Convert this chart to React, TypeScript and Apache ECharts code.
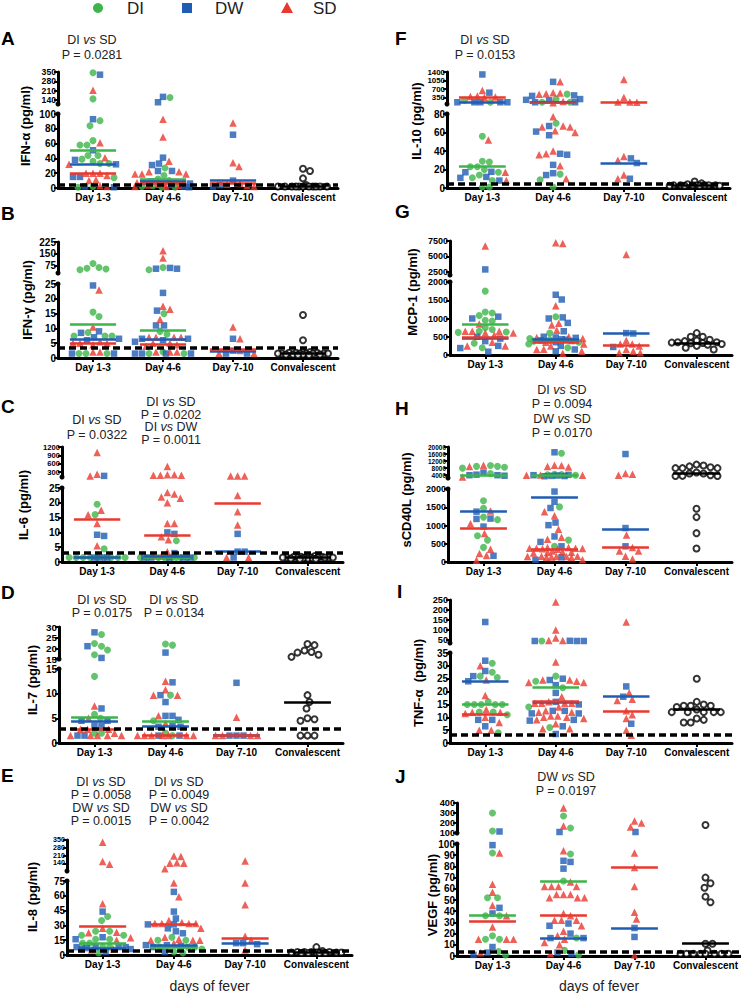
import React, { useEffect, useRef } from 'react';
import * as echarts from 'echarts';

const CATEGORIES = ['Day 1-3', 'Day 4-6', 'Day 7-10', 'Convalescent'];
const GROUP_NAMES = ['DI', 'DW', 'SD'];

// ---------- Panel A : IFN-alpha ----------
const A_DI = [[345, 150, 91, 84, 64, 58, 58, 44, 44, 39, 36, 33, 33, 14, 2, 1], [160, 27, 17, 12, 10, 8, 3, 2, 1, 1], []];
const A_DW = [[330, 93, 51, 38, 32, 15, 15, 2, 1], [165, 125, 41, 33, 31, 23, 23, 9, 8, 6, 4, 2, 1], [72, 10, 4, 2]];
const A_SD = [[215, 61, 41, 32, 20, 20, 20, 17, 11, 10, 3, 2], [93, 69, 36, 22, 22, 19, 19, 19, 8, 7, 6, 5, 4, 3, 2, 2], [88, 34, 29, 6, 5, 3, 2]];
const A_CONV = [26, 23, 13, 4, 2, 2, 2, 2, 2, 2, 2, 2, 2, 2, 2];
const A_MED = [[51, 12, null], [32, 9, 11], [20, 7, 7]];
const A_MED_CONV = 2;
const A_LOD = 4;
const A_UP_TICKS = [140, 210, 280, 350];
const A_LO_TICKS = [0, 20, 40, 60, 80, 100];

// ---------- Panel B : IFN-gamma ----------
const B_DI = [[90, 65, 60, 55, 50, 15.5, 14, 8.6, 7.4, 7.4, 7.4, 1.5, 1.5, 1.5], [65, 50, 15, 9, 8, 2, 1.5, 1.5], []];
const B_DW = [[24.5, 9, 8.5, 7, 6.5, 6, 1.5, 1.5], [62, 57, 57, 22, 16, 11, 11, 6.5, 6.5, 6, 5.5, 1.5, 1.5, 1.5, 1.5], [6.5, 2.5, 1.5, 1.5]];
const B_SD = [[23, 10.5, 5.5, 5, 5, 5, 4.5, 2, 2], [170, 125, 17.5, 16.5, 13, 7, 7, 7, 7, 5, 5, 4.5, 4, 2, 2, 2], [10.5, 6.5, 2.5, 1.5, 1.5]];
const B_CONV = [14.5, 6, 2, 2, 1.8, 1.8, 1.8, 1.5, 1.5, 1.5, 1.5, 1.5, 1.5, 1.5, 1.2, 1.2, 1.2, 1.2, 1, 1];
const B_MED = [[11.5, 9.3, null], [6.5, 6.5, 2.3], [5, 4.5, 2.8]];
const B_MED_CONV = 1.5;
const B_LOD = 3.3;
const B_UP_TICKS = [75, 150, 225];
const B_LO_TICKS = [0, 5, 10, 15, 20, 25];

// ---------- Panel C : IL-6 ----------
const C_DI = [[19.5, 16, 4.5, 1.5, 1.5, 1.5, 1.5, 1.5, 1.5, 1.5, 1.5, 1.5], [7.2, 1.5, 1.5, 1.5, 1.5, 1.5, 1.5, 1.5, 1.5, 1.5, 1.5], []];
const C_DW = [[160, 9.2, 8.8, 1.5, 1.5, 1.5], [10, 9.5, 3, 1.5, 1.5, 1.5, 1.5, 1.5], [9.5, 3.5, 3.5, 1.5]];
const C_SD = [[1000, 220, 160, 17.5, 16, 13, 5.5], [500, 200, 180, 180, 180, 200, 23.5, 23, 22, 21.5, 20, 13, 13, 8.5, 7.5, 3.5, 2, 2], [160, 160, 160, 22.5, 17, 12.5, 1.5, 1.5]];
const C_CONV = [2, 2, 1.8, 1.8, 1.8, 1.5, 1.5, 1.5, 1.5, 1.5, 1.5, 1.5, 1.5, 1.5, 1.2, 1.2, 1.2, 1.2, 1, 1];
const C_MED = [[1.5, 1.5, null], [1.6, 1.8, 3.5], [14.5, 9, 20]];
const C_MED_CONV = 1.5;
const C_LOD = 3.2;
const C_UP_TICKS = [300, 600, 900, 1200];
const C_LO_TICKS = [0, 5, 10, 15, 20, 25];

// ---------- Panel D : IL-7 ----------
const D_DI = [[26.5, 22.3, 21, 19.2, 17, 13.5, 5.8, 5, 2, 2], [22, 21.5, 9.7, 4.5, 2, 1.5], []];
const D_DW = [[27.5, 21, 15.5, 7, 4.5, 4.5, 3.5, 3.5, 1.5, 1.5], [18, 12.3, 9.7, 8.3, 5.5, 5.5, 4.7, 3.5, 3.3, 3.3, 1.5, 1.5], [12.2, 1.5, 1.5, 1.5]];
const D_SD = [[7.5, 5, 2.8, 2.8, 2.8, 2, 1.5, 1.5, 1.5, 1.5, 1.5], [12.5, 10.8, 9.7, 9.7, 5.5, 4, 1.5, 1.5, 1.5, 1.5, 1.5, 1.5, 1.5], [5.2, 1.5, 1.5, 1.5, 1.5]];
const D_CONV = [22, 21.5, 19, 18.3, 18, 17, 16, 9.7, 8.3, 7, 5, 4.8, 4.5, 1.5, 1.5, 1.5];
const D_MED = [[5.2, 4.5, null], [4.5, 3.3, 1.5], [2.8, 1.5, 1.5]];
const D_MED_CONV = 8.3;
const D_LOD = 2.9;
const D_UP_TICKS = [15, 20, 25, 30];
const D_LO_TICKS = [0, 5, 10, 15];

// ---------- Panel E : IL-8 ----------
const E_DI = [[39, 35, 24, 24, 20, 20, 16, 16, 12, 12, 8, 8, 2], [18, 15, 15, 8, 8, 8, 6, 3, 2], []];
const E_DW = [[44, 18, 16, 8, 8, 8, 8, 7, 6, 6, 3], [64, 44, 37, 31, 31, 27, 24, 22, 10, 10, 9, 8, 3], [12, 12, 11]];
const E_SD = [[330, 155, 130, 52, 27, 23, 22.5, 17.5, 15, 6, 5], [205, 200, 140, 145, 140, 90, 73, 59, 35, 33, 32, 32, 32, 32, 27, 18, 16, 15, 15, 15, 12], [160, 73, 51, 19, 15, 5]];
const E_CONV = [8, 4, 3, 3, 3, 3, 2.5, 2.5, 2.5, 2.5, 2, 2, 2, 2];
const E_MED = [[12, 8, null], [7, 9.5, 12], [29, 31, 17]];
const E_MED_CONV = 2.5;
const E_LOD = 4;
const E_UP_TICKS = [140, 210, 280, 350];
const E_LO_TICKS = [0, 15, 30, 45, 60, 75];

// ---------- Panel F : IL-10 ----------
const F_DI = [[250, 170, 56, 29, 28, 23, 23, 20, 17, 14, 11, 8, 1, 1], [500, 300, 170, 170, 70, 15, 9, 1], []];
const F_DW = [[1300, 560, 170, 170, 170, 170, 170, 17.5, 17, 12, 11, 8], [1000, 450, 430, 300, 270, 250, 170, 170, 67, 61, 57, 37, 36, 25, 16, 14], [32, 27, 10]];
const F_SD = [[650, 420, 400, 380, 360, 52, 17, 8], [1000, 560, 550, 520, 500, 200, 150, 77, 66, 66, 67, 62, 60, 40, 36, 37, 24, 10], [1100, 360, 180, 180, 170, 34, 30, 14, 10]];
const F_CONV = [7, 5, 4, 3, 3, 3, 3, 3, 3, 3, 2.5, 2.5, 2.5, 2.5];
const F_MED = [[23, 175, null], [175, 185, 27], [380, 140, 175]];
const F_MED_CONV = 3;
const F_LOD = 4.3;
const F_UP_TICKS = [350, 700, 1050, 1400];
const F_LO_TICKS = [0, 20, 40, 60, 80];

// ---------- Panel G : MCP-1 ----------
const G_DI = [[1750, 1180, 1150, 1080, 950, 930, 750, 700, 650, 630, 620, 320, 200], [1050, 600, 450, 420, 380, 350, 300, 200], []];
const G_DW = [[2900, 1050, 1000, 500, 450, 380, 250, 190, 90], [1650, 1520, 1030, 1000, 880, 650, 500, 480, 470, 430, 420, 400, 350, 250, 150, 100], [600, 590, 220]];
const G_SD = [[6700, 850, 650, 650, 650, 600, 600, 550, 350, 250, 250], [7200, 7100, 1350, 870, 820, 680, 500, 480, 450, 400, 350, 300, 250, 160, 150, 100, 50], [5300, 400, 300, 300, 250, 150, 100, 60, 60]];
const G_CONV = [600, 500, 500, 420, 400, 380, 350, 350, 340, 330, 320, 300, 280, 250, 200, 150];
const G_MED = [[830, 400, null], [470, 430, 590], [500, 350, 280]];
const G_MED_CONV = 330;
const G_LOD = null;
const G_UP_TICKS = [2500, 5000, 7500];
const G_LO_TICKS = [0, 500, 1000, 1500, 2000];

// ---------- Panel H : sCD40L ----------
const H_DI = [[9500, 9000, 9000, 8500, 8000, 5000, 1680, 1470, 1230, 1160, 720, 600, 400], [16500, 4500, 4300, 4200, 4000, 1510, 600, 430], []];
const H_DW = [[5500, 4300, 4000, 4000, 3700, 1380, 1190, 1180, 970, 170], [17000, 4200, 4000, 3800, 3600, 3500, 3400, 1930, 1650, 1480, 1080, 1010, 700, 550, 430, 130, 60], [16000, 930, 430]];
const H_SD = [[9700, 9000, 3000, 1400, 1050, 780, 350, 230, 180, 50], [9700, 9500, 9000, 8600, 4100, 4000, 3900, 1380, 1270, 900, 680, 620, 400, 400, 380, 380, 380, 370, 360, 350, 300, 280, 270, 260, 250, 160, 160, 150, 150, 150, 140, 130, 120, 60], [5000, 4500, 4000, 740, 400, 300, 300, 160, 80]];
const H_CONV = [10000, 9500, 9000, 8500, 8000, 8000, 8000, 5500, 5000, 5000, 4000, 3600, 3500, 3500, 1460, 1230, 790, 370];
const H_MED = [[3800, 4000, null], [1380, 1780, 910], [930, 350, 410]];
const H_MED_CONV = 5000;
const H_LOD = null;
const H_UP_TICKS = [4000, 8000, 12000, 16000, 20000];
const H_LO_TICKS = [0, 500, 1000, 1500, 2000];

// ---------- Panel I : TNF-alpha ----------
const I_DI = [[31, 27.5, 26, 25.5, 16, 15, 15, 15, 15, 15, 12, 12, 11, 4], [45, 26, 24, 21.5, 14, 6], []];
const I_DW = [[140, 32, 28, 26, 24, 9, 9, 6.5], [46, 45, 45, 45, 25, 24.5, 22.5, 19.5, 16, 15, 12.5, 12.5, 11.5, 11.5, 9, 8.7, 6.5, 3.5], [22, 18, 7.5]];
const I_SD = [[30, 24.5, 18.5, 13, 12, 12, 11.5, 10, 8, 5, 5], [240, 100, 60, 48, 47, 31.5, 24.5, 24.5, 24, 23.5, 23.5, 18, 16, 15.5, 15.5, 15.5, 15.5, 14, 12.5, 12, 12, 10.5, 10.5, 10, 10, 9.5, 9, 7.5, 5.5, 5.5], [140, 19.5, 17, 16.5, 12.5, 11, 9.5, 5, 3]];
const I_CONV = [25, 16, 15, 14.5, 14.5, 14.5, 14, 13, 12, 12, 12, 12, 12, 9.5, 9, 8, 8];
const I_MED = [[15, 21.5, null], [24, 15.8, 18], [11, 16.2, 12.5]];
const I_MED_CONV = 13;
const I_LOD = 3.1;
const I_UP_TICKS = [50, 100, 150, 200, 250];
const I_LO_TICKS = [0, 5, 10, 15, 20, 25, 30, 35];

// ---------- Panel J : VEGF ----------
const J_DI = [[300, 120, 92, 52, 52, 36, 36, 18, 15, 15, 4, 1], [270, 150, 91, 67, 16, 5, 1], []];
const J_DW = [[115, 99, 43, 38, 8, 3, 1], [110, 85, 84, 78, 29, 27, 20, 16, 16, 3, 2], [110, 25, 17]];
const J_SD = [[92, 64, 57, 45, 36, 26, 15, 15, 15, 3], [350, 170, 94, 66, 62, 62, 62, 62, 55, 55, 55, 52, 52, 52, 38, 36, 32, 32, 32, 27, 22, 18, 15, 12, 10, 2], [220, 200, 160, 92, 79, 62, 39, 33, 1]];
const J_CONV = [180, 70, 65, 61, 53, 48, 11, 11, 5, 2, 2, 2, 2, 2, 2, 2, 2];
const J_MED = [[36, 67, null], [null, 16, 25], [31, 36, 79]];
const J_MED_CONV = 11;
const J_LOD = 3.6;
const J_UP_TICKS = [100, 200, 300, 400];
const J_LO_TICKS = [0, 10, 20, 30, 40, 50, 60, 70, 80, 90, 100];

// ---------- Panel texts ----------
const AXIS_NAMES = {
  A: 'IFN-α (pg/ml)', B: 'IFN-γ (pg/ml)', C: 'IL-6 (pg/ml)', D: 'IL-7 (pg/ml)', E: 'IL-8 (pg/ml)',
  F: 'IL-10 (pg/ml)', G: 'MCP-1 (pg/ml)', H: 'sCD40L (pg/ml)', I: 'TNF-α  (pg/ml)', J: 'VEGF (pg/ml)',
};

const STATS = [
  { x: 92, y: 40, lines: ['DI {i|vs} SD', 'P = 0.0281'], gap: 15 },
  { x: 485, y: 40, lines: ['DI {i|vs} SD', 'P = 0.0153'], gap: 15 },
  { x: 97, y: 420, lines: ['DI {i|vs} SD', 'P = 0.0322'], gap: 15 },
  { x: 171, y: 402, lines: ['DI {i|vs} SD', 'P = 0.0202', 'DI {i|vs} DW', 'P = 0.0011'], gap: 12.7 },
  { x: 102, y: 600, lines: ['DI {i|vs} SD', 'P = 0.0175'], gap: 13 },
  { x: 174, y: 600, lines: ['DI {i|vs} SD', 'P = 0.0134'], gap: 13 },
  { x: 101, y: 782, lines: ['DI {i|vs} SD', 'P = 0.0058', 'DW {i|vs} SD', 'P = 0.0015'], gap: 13 },
  { x: 179, y: 782, lines: ['DI {i|vs} SD', 'P = 0.0049', 'DW {i|vs} SD', 'P = 0.0042'], gap: 13 },
  { x: 562, y: 390, lines: ['DI {i|vs} SD', 'P = 0.0094', 'DW {i|vs} SD', 'P = 0.0170'], gap: 14.3 },
  { x: 566, y: 777, lines: ['DW {i|vs} SD', 'P = 0.0197'], gap: 14 },
];

// ---------- Layout (positions only) ----------
type Seg = { min: number; max: number; top: number; bottom: number };
type Geo = { left: number; right: number; up: Seg; lo: Seg; nameX: number; nameY: number; letterX: number; letterY: number };

const LAYOUT: Record<string, Geo> = {
  A: { left: 58, right: 338, up: { min: 112, max: 350, top: 72, bottom: 104 }, lo: { min: 0, max: 100, top: 114, bottom: 188 }, nameX: 25, nameY: 126, letterX: 1, letterY: 38 },
  B: { left: 58, right: 338, up: { min: 30, max: 225, top: 242, bottom: 273 }, lo: { min: 0, max: 25, top: 284, bottom: 358 }, nameX: 27, nameY: 300, letterX: 1, letterY: 213 },
  C: { left: 62, right: 343, up: { min: 120, max: 1200, top: 447, bottom: 477 }, lo: { min: 0, max: 25, top: 488, bottom: 562 }, nameX: 23, nameY: 505, letterX: 1, letterY: 406 },
  D: { left: 59, right: 343, up: { min: 15, max: 30, top: 627, bottom: 659 }, lo: { min: 0, max: 15, top: 669, bottom: 743 }, nameX: 32, nameY: 680, letterX: 1, letterY: 592 },
  E: { left: 67, right: 352, up: { min: 70, max: 350, top: 840, bottom: 871 }, lo: { min: 0, max: 75, top: 881, bottom: 955 }, nameX: 32, nameY: 897, letterX: 1, letterY: 775 },
  F: { left: 447, right: 730, up: { min: 100, max: 1400, top: 72, bottom: 104 }, lo: { min: 0, max: 80, top: 114, bottom: 188 }, nameX: 416, nameY: 121, letterX: 395, letterY: 38 },
  G: { left: 450, right: 732, up: { min: 2000, max: 7500, top: 241, bottom: 275 }, lo: { min: 0, max: 2000, top: 282, bottom: 355 }, nameX: 412, nameY: 292, letterX: 395, letterY: 211 },
  H: { left: 448, right: 732, up: { min: 2400, max: 20000, top: 447, bottom: 478 }, lo: { min: 0, max: 2000, top: 489, bottom: 562 }, nameX: 406, nameY: 500, letterX: 395, letterY: 408 },
  I: { left: 450, right: 732, up: { min: 35, max: 250, top: 600, bottom: 643 }, lo: { min: 0, max: 35, top: 653, bottom: 743 }, nameX: 418, nameY: 683, letterX: 397, letterY: 591 },
  J: { left: 457, right: 741, up: { min: 100, max: 400, top: 803, bottom: 833 }, lo: { min: 0, max: 100, top: 844, bottom: 956 }, nameX: 432, nameY: 895, letterX: 395, letterY: 776 },
};

type Panel = { id: string; groups: number[][][]; conv: number[]; med: (number | null)[][]; medConv: number; lod: number | null; upTicks: number[]; loTicks: number[] };

const PANELS: Panel[] = [
  { id: 'A', groups: [A_DI, A_DW, A_SD], conv: A_CONV, med: A_MED, medConv: A_MED_CONV, lod: A_LOD, upTicks: A_UP_TICKS, loTicks: A_LO_TICKS },
  { id: 'B', groups: [B_DI, B_DW, B_SD], conv: B_CONV, med: B_MED, medConv: B_MED_CONV, lod: B_LOD, upTicks: B_UP_TICKS, loTicks: B_LO_TICKS },
  { id: 'C', groups: [C_DI, C_DW, C_SD], conv: C_CONV, med: C_MED, medConv: C_MED_CONV, lod: C_LOD, upTicks: C_UP_TICKS, loTicks: C_LO_TICKS },
  { id: 'D', groups: [D_DI, D_DW, D_SD], conv: D_CONV, med: D_MED, medConv: D_MED_CONV, lod: D_LOD, upTicks: D_UP_TICKS, loTicks: D_LO_TICKS },
  { id: 'E', groups: [E_DI, E_DW, E_SD], conv: E_CONV, med: E_MED, medConv: E_MED_CONV, lod: E_LOD, upTicks: E_UP_TICKS, loTicks: E_LO_TICKS },
  { id: 'F', groups: [F_DI, F_DW, F_SD], conv: F_CONV, med: F_MED, medConv: F_MED_CONV, lod: F_LOD, upTicks: F_UP_TICKS, loTicks: F_LO_TICKS },
  { id: 'G', groups: [G_DI, G_DW, G_SD], conv: G_CONV, med: G_MED, medConv: G_MED_CONV, lod: G_LOD, upTicks: G_UP_TICKS, loTicks: G_LO_TICKS },
  { id: 'H', groups: [H_DI, H_DW, H_SD], conv: H_CONV, med: H_MED, medConv: H_MED_CONV, lod: H_LOD, upTicks: H_UP_TICKS, loTicks: H_LO_TICKS },
  { id: 'I', groups: [I_DI, I_DW, I_SD], conv: I_CONV, med: I_MED, medConv: I_MED_CONV, lod: I_LOD, upTicks: I_UP_TICKS, loTicks: I_LO_TICKS },
  { id: 'J', groups: [J_DI, J_DW, J_SD], conv: J_CONV, med: J_MED, medConv: J_MED_CONV, lod: J_LOD, upTicks: J_UP_TICKS, loTicks: J_LO_TICKS },
];

const FONT = "'Liberation Sans', Arial, Helvetica, sans-serif";
const COLORS = ['#3db54a', '#1f5db3', '#e8392e'];
const SYMBOLS = ['circle', 'rect', 'triangle'];
const SYMBOL_SIZES = [7, 6.5, 7.5];
const MEDIAN_HALF = 0.33;

function segPx(seg: Seg, v: number) {
  const c = Math.min(seg.max, Math.max(seg.min, v));
  return seg.bottom - ((c - seg.min) / (seg.max - seg.min)) * (seg.bottom - seg.top);
}
function isUpper(g: Geo, v: number) {
  return v > g.lo.max;
}

// deterministic beeswarm: place each point at the nearest free horizontal offset
function swarm(ys: number[], diam: number, maxOff: number): number[] {
  const order = ys.map((_, i) => i).sort((a, b) => ys[a] - ys[b]);
  const placed: { x: number; y: number }[] = [];
  const xs = new Array(ys.length).fill(0);
  const cands: number[] = [0];
  for (let k = 1; k <= maxOff; k++) cands.push(k, -k);
  for (const i of order) {
    const y = ys[i];
    let chosen: number | null = null;
    let best = 0;
    let bestD = -1;
    for (const c of cands) {
      let minD = Infinity;
      for (const p of placed) {
        const d = Math.hypot(p.x - c, p.y - y);
        if (d < minD) minD = d;
      }
      if (minD >= diam) { chosen = c; break; }
      if (minD > bestD + 0.5) { bestD = minD; best = c; }
    }
    const x = chosen === null ? best : chosen;
    xs[i] = x;
    placed.push({ x, y });
  }
  return xs;
}

function buildOption() {
  const grid: any[] = [];
  const xAxis: any[] = [];
  const yAxis: any[] = [];
  const series: any[] = [];
  const graphic: any[] = [];

  PANELS.forEach((p, pi) => {
    const g = LAYOUT[p.id];
    const width = g.right - g.left;
    const pxPerUnit = width / 4;

    const segData: any[][][] = [[[], [], [], []], [[], [], [], []]];
    for (let c = 0; c < 4; c++) {
      const pts: { v: number; grp: number }[] = [];
      if (c < 3) {
        p.groups.forEach((grp, gi) => (grp[c] || []).forEach((v) => pts.push({ v, grp: gi })));
      } else {
        p.conv.forEach((v) => pts.push({ v, grp: 3 }));
      }
      const ys = pts.map((q) => (isUpper(g, q.v) ? segPx(g.up, q.v) : segPx(g.lo, q.v)));
      const offs = swarm(ys, 7, c < 3 ? 28 : 25);
      pts.forEach((q, k) => {
        const s = isUpper(g, q.v) ? 0 : 1;
        segData[s][q.grp].push([c + 0.5 + offs[k] / pxPerUnit, q.v]);
      });
    }

    ['up', 'lo'].forEach((sk, si) => {
      const seg: Seg = (g as any)[sk];
      const idx = pi * 2 + si;
      const isLo = sk === 'lo';
      const segH = seg.bottom - seg.top;
      grid.push({ left: g.left, top: seg.top, width, height: segH, containLabel: false });
      xAxis.push({
        gridIndex: idx, type: 'value', min: 0, max: 4, show: isLo,
        axisLine: { show: true, onZero: false, lineStyle: { color: '#000', width: 3 } },
        axisTick: { show: true, customValues: [0.5, 1.5, 2.5, 3.5], length: 4, lineStyle: { color: '#000', width: 2 } },
        axisLabel: {
          show: true, customValues: [0.5, 1.5, 2.5, 3.5],
          formatter: (v: number) => CATEGORIES[Math.floor(v)] || '',
          fontSize: 10, fontWeight: 'bold', color: '#000', margin: 4, fontFamily: FONT,
        },
        splitLine: { show: false },
      });
      const ticks = isLo ? p.loTicks : p.upTicks;
      const maxLen = Math.max(...ticks.map((t) => String(t).length));
      const spacing = segH * (ticks[1] - ticks[0]) / (seg.max - seg.min);
      const base = maxLen <= 3 ? 10 : maxLen === 4 ? 9 : 8;
      const fs = Math.max(6.5, Math.min(base, spacing * 0.92));
      yAxis.push({
        gridIndex: idx, type: 'value', min: seg.min, max: seg.max,
        axisLine: {
          show: true, onZero: false, lineStyle: { color: '#000', width: 3 },
          symbol: isLo ? ['none', 'circle'] : ['circle', 'none'], symbolSize: [5, 5],
        },
        axisTick: { show: true, customValues: ticks, length: 4, lineStyle: { color: '#000', width: 2 } },
        axisLabel: {
          show: true, customValues: ticks, showMinLabel: true, showMaxLabel: true, hideOverlap: false,
          formatter: (v: number) => String(v),
          fontSize: fs, lineHeight: fs, fontWeight: 'bold', color: '#000', margin: 2, fontFamily: FONT,
        },
        splitLine: { show: false },
      });

      for (let gi = 0; gi < 4; gi++) {
        const data = segData[si][gi];
        if (!data.length) continue;
        if (gi < 3) {
          series.push({
            type: 'scatter', name: GROUP_NAMES[gi], xAxisIndex: idx, yAxisIndex: idx, data,
            symbol: SYMBOLS[gi], symbolSize: SYMBOL_SIZES[gi], itemStyle: { color: COLORS[gi] },
            z: 2, silent: true, clip: false,
          });
        } else {
          series.push({
            type: 'scatter', name: 'Convalescent', xAxisIndex: idx, yAxisIndex: idx, data,
            symbol: 'circle', symbolSize: 6, itemStyle: { color: '#fff', borderColor: '#000', borderWidth: 2 },
            z: 2, silent: true, clip: false,
          });
        }
      }

      const lines: any[] = [];
      p.med.forEach((arr, gi) => arr.forEach((m, c) => {
        if (m === null) return;
        if ((isUpper(g, m) ? 0 : 1) !== si) return;
        lines.push({ coords: [[c + 0.5 - MEDIAN_HALF, m], [c + 0.5 + MEDIAN_HALF, m]], lineStyle: { color: COLORS[gi], width: 2.5, type: 'solid' } });
      }));
      if ((isUpper(g, p.medConv) ? 0 : 1) === si) {
        lines.push({ coords: [[3.5 - MEDIAN_HALF, p.medConv], [3.5 + MEDIAN_HALF, p.medConv]], lineStyle: { color: '#000', width: 2.5, type: 'solid' } });
      }
      if (lines.length) {
        series.push({
          type: 'lines', coordinateSystem: 'cartesian2d', xAxisIndex: idx, yAxisIndex: idx, polyline: false,
          data: lines, lineStyle: { opacity: 1 }, z: 3, silent: true, symbol: ['none', 'none'],
        });
      }
      if (isLo && p.lod !== null) {
        series.push({
          type: 'lines', coordinateSystem: 'cartesian2d', xAxisIndex: idx, yAxisIndex: idx, polyline: false,
          data: [{ coords: [[0, p.lod], [4, p.lod]] }],
          lineStyle: { color: '#000', width: 3.5, type: [7, 4], opacity: 1 }, z: 4, silent: true, symbol: ['none', 'none'],
        });
      }
    });

    graphic.push({
      type: 'text', x: g.letterX, y: g.letterY,
      style: { text: p.id, fontSize: 19, fontWeight: 'bold', fontFamily: FONT, fill: '#000', textAlign: 'left', align: 'left', textVerticalAlign: 'middle', verticalAlign: 'middle' },
    });
    graphic.push({
      type: 'text', x: g.nameX, y: g.nameY, rotation: Math.PI / 2,
      style: { text: (AXIS_NAMES as any)[p.id], fontSize: 13, fontWeight: 'bold', fontFamily: FONT, fill: '#000', textAlign: 'center', align: 'center', textVerticalAlign: 'middle', verticalAlign: 'middle' },
    });
  });

  STATS.forEach((s) => {
    s.lines.forEach((t, k) => {
      graphic.push({
        type: 'text', x: s.x, y: s.y + k * s.gap,
        style: {
          text: t, fontSize: 12.5, fontFamily: FONT, fill: '#222', textAlign: 'center', align: 'center', textVerticalAlign: 'middle', verticalAlign: 'middle',
          rich: { i: { fontStyle: 'italic', fontSize: 12.5, fontFamily: FONT, fill: '#222' } },
        },
      });
    });
  });

  graphic.push({ type: 'circle', shape: { cx: 98, cy: 8, r: 5 }, style: { fill: COLORS[0] } });
  graphic.push({ type: 'rect', shape: { x: 182, y: 3, width: 10, height: 10 }, style: { fill: COLORS[1] } });
  graphic.push({ type: 'polygon', shape: { points: [[287, 2], [293, 13], [281, 13]] }, style: { fill: COLORS[2] } });
  [['DI', 127], ['DW', 215], ['SD', 313]].forEach(([t, x]) => {
    graphic.push({
      type: 'text', x: x as number, y: 8,
      style: { text: t as string, fontSize: 17, fontFamily: FONT, fill: '#222', textAlign: 'left', align: 'left', textVerticalAlign: 'middle', verticalAlign: 'middle' },
    });
  });

  [[(LAYOUT.E.left + LAYOUT.E.right) / 2, 986], [(LAYOUT.J.left + LAYOUT.J.right) / 2, 986]].forEach(([x, y]) => {
    graphic.push({
      type: 'text', x, y,
      style: { text: 'days of fever', fontSize: 14, fontFamily: FONT, fill: '#222', textAlign: 'center', align: 'center', textVerticalAlign: 'middle', verticalAlign: 'middle' },
    });
  });

  return { animation: false, backgroundColor: '#fff', grid, xAxis, yAxis, series, graphic };
}

export default function App() {
  const ref = useRef<HTMLDivElement>(null);
  useEffect(() => {
    if (!ref.current) return;
    const chart = echarts.init(ref.current, null, { renderer: 'svg' });
    chart.setOption(buildOption() as any);
    return () => chart.dispose();
  }, []);
  return <div ref={ref} style={{ position: 'absolute', left: 0, top: 0, width: 741, height: 993 }} />;
}
